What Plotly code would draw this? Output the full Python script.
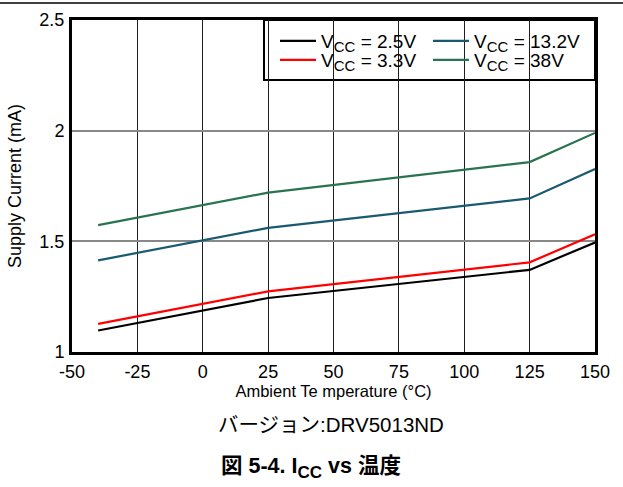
import plotly.graph_objects as go

temps = [-40, 25, 125, 150]
vcc_2v5 = [1.097, 1.244, 1.371, 1.495]
vcc_3v3 = [1.127, 1.274, 1.405, 1.532]
vcc_13v2 = [1.414, 1.561, 1.694, 1.827]
vcc_38 = [1.573, 1.720, 1.858, 1.990]

SUB = "V<sub><span style='font-size:15px'>CC</span></sub>"
series = [
    (SUB + " = 2.5V", vcc_2v5, "#000000", "legend"),
    (SUB + " = 3.3V", vcc_3v3, "#ff0000", "legend2"),
    (SUB + " = 13.2V", vcc_13v2, "#1a5a70", "legend3"),
    (SUB + " = 38V", vcc_38, "#2a7350", "legend4"),
]

x_ticks = [-50, -25, 0, 25, 50, 75, 100, 125, 150]
y_ticks = [1, 1.5, 2, 2.5]

FONT = "Liberation Sans, Arial, sans-serif"

fig = go.Figure()
for name, vals, color, lg in series:
    fig.add_trace(go.Scatter(x=temps, y=vals, mode="lines", name=name,
                             line=dict(color=color, width=2.2), legend=lg))

W, H = 623, 487
L, R, T, B = 72, 28, 20, 135
pw, ph = W - L - R, H - T - B

def px_x(px):
    return (px - L) / pw

def px_y(py):
    return (H - B - py) / ph

def leg(xpx, ypx):
    return dict(x=px_x(xpx), y=px_y(ypx), xanchor="left", yanchor="middle",
                bgcolor="rgba(0,0,0,0)", borderwidth=0, font=dict(size=19),
                itemwidth=36)

fig.update_layout(
    width=W, height=H,
    margin=dict(l=L, r=R, t=T, b=B, autoexpand=False),
    paper_bgcolor="white", plot_bgcolor="white",
    font=dict(family=FONT, size=18, color="black"),
    showlegend=True,
    legend=leg(275, 41),
    legend2=leg(275, 60),
    legend3=leg(428, 41),
    legend4=leg(428, 60),
    xaxis=dict(range=[-50, 150], tickvals=x_ticks, ticktext=[str(v) for v in x_ticks],
               showgrid=True, gridcolor="#1e1e1e", gridwidth=1,
               showline=True, linecolor="black", linewidth=3, mirror=True,
               ticks="", ticklabelstandoff=1, zeroline=False, automargin=False,
               tickfont=dict(size=18),
               title=dict(text="Ambient Te mperature (°C)", standoff=3,
                          font=dict(size=16.5))),
    yaxis=dict(range=[1, 2.5], tickvals=y_ticks, ticktext=["1", "1.5", "2", "2.5"],
               showgrid=True, gridcolor="#888888", gridwidth=1.5,
               showline=True, linecolor="black", linewidth=3, mirror=True,
               ticks="", ticklabelstandoff=1, zeroline=False, automargin=False,
               tickfont=dict(size=18),
               title=dict(text="Supply Current (mA)", standoff=14,
                          font=dict(size=18))),
)

# legend frame (white box covering grid)
fig.add_shape(type="rect", xref="paper", yref="paper",
              x0=px_x(264), x1=1.0, y0=px_y(80), y1=1.0,
              line=dict(color="black", width=2), fillcolor="white", layer="between")

# top page rule
fig.add_shape(type="line", xref="paper", yref="paper",
              x0=px_x(0), x1=px_x(W), y0=px_y(3), y1=px_y(3),
              line=dict(color="black", width=1.5))

fig.add_annotation(text="バージョン:DRV5013ND", xref="paper", yref="paper",
                   x=px_x(331), y=px_y(438), showarrow=False,
                   font=dict(family="Liberation Sans, Noto Sans CJK JP", size=20.5))
fig.add_annotation(text="<b>図 5-4. I<sub><span style='font-size:17px'>CC</span></sub> vs 温度</b>",
                   xref="paper", yref="paper",
                   x=px_x(311), y=px_y(484), showarrow=False,
                   font=dict(family="Liberation Sans, Noto Sans CJK JP", size=21.5))

fig.write_html("out.html", config={"displayModeBar": False},
               post_script="document.body.style.margin='0';document.body.style.padding='0';")
